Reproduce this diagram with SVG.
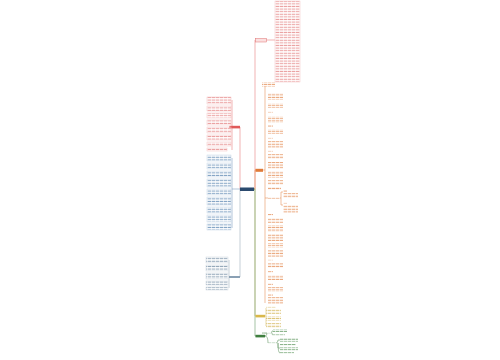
<svg xmlns="http://www.w3.org/2000/svg" width="500" height="360" viewBox="0 0 500 360">
<defs>
<pattern id="pr" width="4" height="2.6" patternUnits="userSpaceOnUse"><rect y="0.7" width="3.4" height="1.1" fill="#eba3a3"/></pattern>
<pattern id="pb" width="4" height="2.6" patternUnits="userSpaceOnUse"><rect y="0.7" width="3.4" height="1.1" fill="#86a6c6"/></pattern>
<pattern id="pg" width="4" height="2.6" patternUnits="userSpaceOnUse"><rect y="0.7" width="3.4" height="1.1" fill="#96a9ba"/></pattern>
<pattern id="po" width="4" height="2.6" patternUnits="userSpaceOnUse"><rect y="0.7" width="3.4" height="1.1" fill="#ebab82"/></pattern>
<pattern id="py" width="4" height="2.6" patternUnits="userSpaceOnUse"><rect y="0.7" width="3.4" height="1.1" fill="#dcc47a"/></pattern>
<pattern id="pgr" width="4" height="2.6" patternUnits="userSpaceOnUse"><rect y="0.7" width="3.4" height="1.1" fill="#8db58d"/></pattern>
</defs>
<style>
.r{fill:url(#pr);stroke:#f4c4c4;stroke-width:0.5}
.b{fill:url(#pb);stroke:#c5d6e6;stroke-width:0.5}
.g{fill:url(#pg);stroke:#d0d8e0;stroke-width:0.5}
.o{fill:url(#po);stroke:none}
.y{fill:url(#py);stroke:none}
.gr{fill:url(#pgr);stroke:none}
.cr{stroke:#e88080;fill:none;stroke-width:0.6}
.cb{stroke:#7f9fc0;fill:none;stroke-width:0.6}
.cg{stroke:#a0b0be;fill:none;stroke-width:0.6}
.co{stroke:#e5935e;fill:none;stroke-width:0.6}
.cy{stroke:#d8c070;fill:none;stroke-width:0.6}
.cgr{stroke:#6a9a6a;fill:none;stroke-width:0.6}
</style>
<rect width="500" height="360" fill="#ffffff"/>
<g id="connectors">
<path class="cr" d="M254 189 H255 V40 H256"/>
<path class="co" d="M254 189 H255 V170 H256"/>
<path class="cy" d="M254 189 H255 V316 H256"/>
<path class="cgr" d="M254 189 H255 V336 H256"/>
<path class="cr" d="M240 189 V127"/>
<path class="cg" d="M240 189 V277"/>
<path class="cb" d="M240 189 H232"/>
<path class="cr" d="M266 40 H275"/>
<path class="cr" d="M229 127 H232 M232 100 V150"/>
<path class="cb" d="M232 158 V228"/>
<path class="cg" d="M229 260 V288"/>
<path class="co" d="M263 170 H265 M265 86 V303"/>
<path class="co" d="M265 198 H268 M280 198 H281 V192 H283 M281 198 V205 H283"/>
<path class="cy" d="M265 316 H266 V308 M266 316 V326"/>
<path class="cgr" d="M265 336 Q267 336 267 333 H262 M271 333 Q272 333 272 331 H273 M272 333 Q272 335 273 335 M265 336 Q268 336 268 343 M276 343 Q278 343 278 340 H280 M278 343 V348 H280 M278 343 Q278 353 280 353"/>
</g>
<g id="root"><rect x="240" y="187.5" width="14" height="3.5" fill="#2b4a6e"/></g>
<g id="n-red-top">
<rect x="255.5" y="38.5" width="11" height="3.5" fill="#fbe0e0" stroke="#e07070" stroke-width="0.5"/>
<rect class="r" x="275" y="1" width="25" height="81"/>
</g>
<g id="n-red-left">
<rect x="229.5" y="125.8" width="10.5" height="2.6" fill="#e05a5a"/>
<rect class="r" x="207" y="97" width="24" height="7"/>
<rect class="r" x="207" y="106" width="24" height="5"/>
<rect class="r" x="207" y="113" width="24" height="5"/>
<rect class="r" x="207" y="120" width="24" height="5"/>
<rect class="r" x="207" y="127" width="24" height="6"/>
<rect class="r" x="207" y="135" width="24" height="5"/>
<rect class="r" x="207" y="142" width="24" height="4"/>
<rect class="r" x="207" y="148" width="20" height="3"/>
</g>
<g id="n-blue-left">
<rect class="b" x="207" y="155" width="24" height="6"/>
<rect class="b" x="207" y="163" width="24" height="6"/>
<rect class="b" x="207" y="171" width="24" height="6"/>
<rect class="b" x="207" y="179" width="24" height="8"/>
<rect class="b" x="207" y="189" width="24" height="6"/>
<rect class="b" x="207" y="197" width="24" height="8"/>
<rect class="b" x="207" y="207" width="24" height="6"/>
<rect class="b" x="207" y="215" width="24" height="7"/>
<rect class="b" x="207" y="224" width="24" height="6"/>
</g>
<g id="n-gray-left">
<rect x="229" y="276" width="11" height="2" fill="#8aa0b4"/>
<rect class="g" x="206" y="257" width="22" height="6"/>
<rect class="g" x="206" y="265" width="22" height="6"/>
<rect class="g" x="206" y="273" width="22" height="6"/>
<rect class="g" x="206" y="281" width="22" height="4"/>
<rect class="g" x="206" y="287" width="22" height="3"/>
</g>
<g id="n-orange">
<rect x="255.5" y="168.8" width="7.5" height="3" fill="#e07b39"/>
<rect class="o" x="262" y="82" width="13" height="5"/>
<rect class="o" x="268" y="93" width="15" height="7"/>
<rect class="o" x="268" y="103" width="15" height="5"/>
<rect class="o" x="268" y="111" width="5" height="2"/>
<rect class="o" x="268" y="116" width="15" height="7"/>
<rect class="o" x="268" y="125" width="5" height="2"/>
<rect class="o" x="268" y="129" width="15" height="5"/>
<rect class="o" x="268" y="137" width="5" height="2"/>
<rect class="o" x="268" y="141" width="15" height="7"/>
<rect class="o" x="268" y="150" width="5" height="2"/>
<rect class="o" x="268" y="154" width="15" height="5"/>
<rect class="o" x="268" y="162" width="15" height="7"/>
<rect class="o" x="268" y="171" width="15" height="7"/>
<rect class="o" x="268" y="180" width="15" height="5"/>
<rect class="o" x="268" y="187" width="13" height="3"/>
<rect class="o" x="268" y="197" width="12" height="2"/>
<rect class="o" x="283" y="190" width="4" height="2"/>
<rect class="o" x="283" y="193" width="15" height="5"/>
<rect class="o" x="283" y="202" width="4" height="2"/>
<rect class="o" x="283" y="205" width="15" height="8"/>
<rect class="o" x="268" y="214" width="5" height="2"/>
<rect class="o" x="268" y="218" width="15" height="5"/>
<rect class="o" x="268" y="225" width="15" height="7"/>
<rect class="o" x="268" y="234" width="15" height="7"/>
<rect class="o" x="268" y="243" width="15" height="5"/>
<rect class="o" x="268" y="250" width="15" height="7"/>
<rect class="o" x="268" y="259" width="5" height="2"/>
<rect class="o" x="268" y="263" width="15" height="5"/>
<rect class="o" x="268" y="271" width="5" height="2"/>
<rect class="o" x="268" y="275" width="15" height="5"/>
<rect class="o" x="268" y="283" width="5" height="2"/>
<rect class="o" x="268" y="287" width="15" height="5"/>
<rect class="o" x="268" y="294" width="5" height="2"/>
<rect class="o" x="268" y="297" width="15" height="7"/>
</g>
<g id="n-yellow">
<rect x="255.5" y="314.8" width="9.5" height="2.6" fill="#d9b84a"/>
<rect class="y" x="266" y="306" width="10" height="2"/>
<rect class="y" x="266" y="309" width="15" height="5"/>
<rect class="y" x="266" y="316" width="15" height="5"/>
<rect class="y" x="266" y="323" width="15" height="5"/>
</g>
<g id="n-green">
<rect x="255.5" y="334.8" width="9.5" height="2.6" fill="#3f7f3f"/>
<rect class="gr" x="262" y="332" width="9" height="1.5"/>
<rect class="gr" x="273" y="329" width="14" height="3"/>
<rect class="gr" x="273" y="334" width="12" height="2"/>
<rect class="gr" x="268" y="342" width="8" height="1.5"/>
<rect class="gr" x="280" y="338" width="18" height="4"/>
<rect class="gr" x="280" y="344" width="16" height="2"/>
<rect class="gr" x="280" y="347" width="18" height="4"/>
<rect class="gr" x="280" y="352" width="14" height="2"/>
</g>
</svg>
